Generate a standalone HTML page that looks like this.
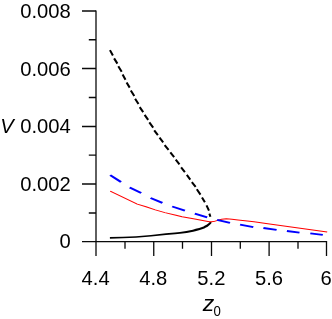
<!DOCTYPE html>
<html><head><meta charset="utf-8">
<style>
html,body{margin:0;padding:0;background:#fff;}
svg{display:block;}
text{font-family:"Liberation Sans",sans-serif;fill:#000;}
</style></head><body>
<svg width="332" height="319" viewBox="0 0 332 319">
<defs><filter id="idf" x="0" y="0" width="332" height="319" filterUnits="userSpaceOnUse" color-interpolation-filters="sRGB"><feOffset dx="0" dy="0"/></filter></defs>
<rect width="332" height="319" fill="#fff"/>
<g stroke="#0a0a0a" stroke-width="1.3" fill="none">
<!-- axes -->
<path d="M96 10.4V256"/>
<path d="M82 241.65H327.1"/>
<!-- y major -->
<path d="M82 11H96M82 68.5H96M82 126.5H96M82 184H96"/>
<!-- y minor -->
<path d="M88.8 39.75H96M88.8 97.5H96M88.8 155.1H96M88.8 213H96"/>
<!-- x major -->
<path d="M153.75 241.5V256M211.5 241.5V256M269.1 241.5V256M326.5 241.5V256"/>
<!-- x minor -->
<path d="M125 241.5V248.7M182.5 241.5V248.7M240.3 241.5V248.7M298 241.5V248.7"/>
</g>
<!-- curves -->
<path d="M109.87 237.03 L122.97 236.63 L135.95 236.13 L150.92 234.93 L165.92 233.35 L174.91 232.48 L179.88 231.93 L186.33 230.99 L192.76 229.65 L195.72 228.81 L199.18 227.92 L203.50 226.40 L204.55 225.79 L206.52 224.85 L208.55 223.27 L209.58 222.22 L209.76 221.65 L211.64 222.35 L211.22 223.38 L209.95 224.83 L207.68 226.65 L205.53 227.71 L204.30 228.40 L199.82 229.98 L196.28 230.89 L193.24 231.75 L186.67 233.01 L180.12 233.87 L175.09 234.32 L166.08 235.05 L151.08 236.57 L136.05 237.77 L123.03 238.27 L109.93 238.67Z" fill="#000" stroke="none"/>
<path d="M109.95 50.13L112.90 55.52M114.11 58.37L117.39 63.63M118.30 66.27L121.70 71.83M122.60 74.47L125.50 79.63M126.60 82.47L129.70 87.63M130.81 90.47L134.29 95.93M135.11 98.77L138.49 104.03M139.71 107.16L143.19 112.14M144.62 114.96L148.18 119.94M149.32 122.46L153.18 127.64M154.22 130.26L157.88 135.14M159.52 137.66L163.18 142.34M164.63 145.15L168.57 149.95M170.33 152.45L174.17 157.15M175.72 159.66L179.48 164.34M181.12 167.36L184.88 172.14M186.82 174.96L190.28 179.64M191.83 182.06L195.67 186.84M196.81 189.27L200.49 194.63M202.00 197.47L204.90 202.33M206.53 205.43L208.97 210.67M209.36 213.59L210.39 216.71" fill="none" stroke="#000" stroke-width="2.05"/>
<g transform="scale(1.4 1)"><path d="M78.71 191.20 L98.07 204.10 L104.29 206.70 L110.93 209.90 L117.79 212.60 L125.71 215.30 L130.07 216.70 L139.14 219.10 L145.71 220.70 L149.50 221.70 L150.86 221.80 L152.57 221.60 L154.86 220.60 L156.43 219.90 L158.36 219.35 L161.64 218.80 L165.71 219.30 L170.00 219.95 L175.00 220.70 L181.43 221.85 L190.00 223.55 L233.71 232.10" fill="none" stroke="#ff0000" stroke-width="1.0" stroke-linejoin="round"/></g>
<g transform="scale(1.4 1)"><path d="M78.71 175.10L86.43 182.05M92.64 187.50L100.86 193.10M107.57 198.00L116.00 202.90M123.00 206.50L132.07 210.60M139.14 213.70L148.00 217.30M155.07 219.80L164.29 222.90M171.50 224.60L180.93 227.10M188.14 228.00L197.57 229.90M204.93 231.00L213.93 232.60M221.64 233.30L230.57 234.90" fill="none" stroke="#0000ff" stroke-width="1.85"/></g>
<!-- labels -->
<g filter="url(#idf)">
<g font-size="20.2" text-anchor="end">
<text x="70.8" y="18">0.008</text>
<text x="70.8" y="75.5">0.006</text>
<text x="70.8" y="133">0.004</text>
<text x="70.8" y="190.5">0.002</text>
<text x="70.8" y="248.3">0</text>
</g>
<text x="0.3" y="133" font-size="20.2" font-style="italic">V</text>
<g font-size="20.2" text-anchor="middle">
<text x="95.6" y="284.9">4.4</text>
<text x="153.3" y="284.9">4.8</text>
<text x="211.4" y="284.9">5.2</text>
<text x="269" y="284.9">5.6</text>
<text x="326" y="284.9">6</text>
</g>
<text transform="translate(202.7 310.5) scale(1.06 1)" x="0" y="0" font-size="21.8" font-style="italic">z</text>
<text transform="translate(213.6 315.8) scale(0.93 1)" x="0" y="0" font-size="14.2">0</text>
</g>
</svg>
</body></html>
